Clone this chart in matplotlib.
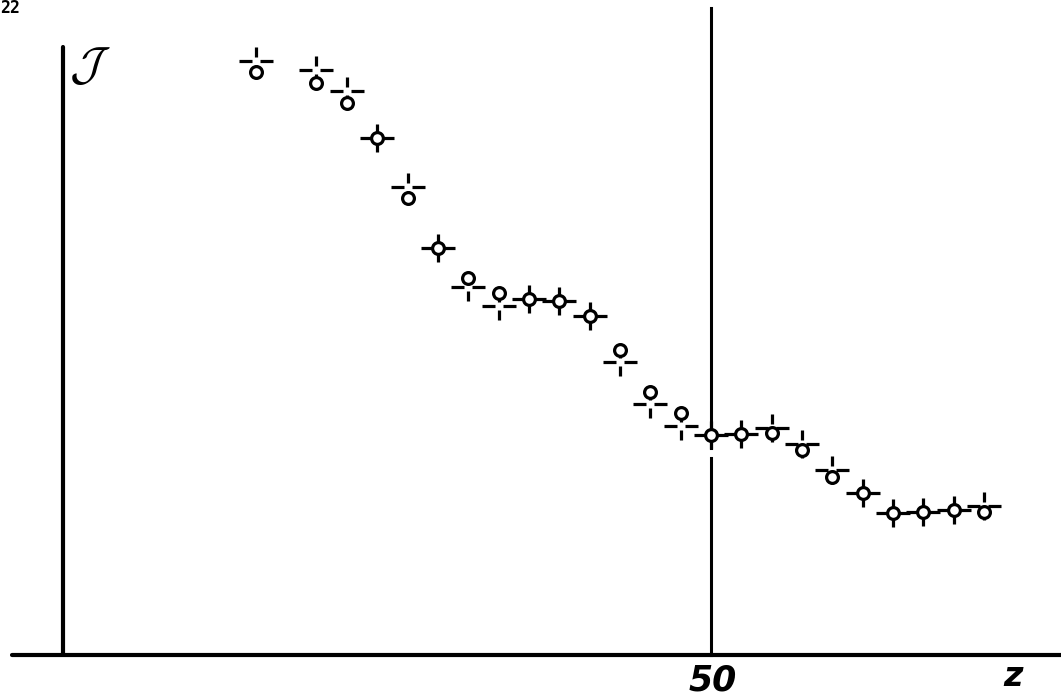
import numpy as np
import matplotlib
matplotlib.use('Agg')
import matplotlib.pyplot as plt
from matplotlib.path import Path

plt.rcParams['mathtext.fontset'] = 'cm'

# Data (J in arbitrary units)
z = [35, 37, 38, 39, 40, 41, 42, 43, 44, 45, 46, 47, 48, 49,
     50, 51, 52, 53, 54, 55, 56, 57, 58, 59]
j = [95.6, 93.8, 90.5, 84.8, 74.9, 66.7, 61.8, 59.3, 58.4, 58.0, 55.6, 50.0,
     43.1, 39.7, 36.1, 36.2, 36.4, 33.6, 29.2, 26.6, 23.3, 23.4, 23.8, 23.4]
# where the drawn cross sits relative to the circle
cross_shift = [1.8, 2.1, 2.0, 0.0, 1.8, 0.0, -1.5, -2.0, 0.0, 0.0, 0.0, -2.0,
               -2.0, -2.1, 0.0, 0.0, 0.8, 1.0, 1.1, 0.0, 0.0, 0.0, 0.0, 1.0]

fig = plt.figure(figsize=(10.61, 6.96), dpi=100)
ax = fig.add_axes([0, 0, 1, 1])
ax.set_xlim(26.573, 61.532)
ax.set_ylim(-6.72, 107.4)
ax.axis('off')

# axes as hand-drawn lines
ax.plot([26.968, 61.532], [0, 0], color='black', lw=3.0, solid_capstyle='round')
ax.plot([28.65, 28.65], [0, 99.7], color='black', lw=3.0, solid_capstyle='round')
ax.plot([50, 50], [0, 32.3], color='black', lw=2.2)
ax.plot([50, 50], [33.9, 106.1], color='black', lw=2.2)

# cross with a small gap in the middle
g = 0.22
cross = Path([(-1, 0), (-g, 0), (g, 0), (1, 0),
              (0, -0.82), (0, -g), (0, g), (0, 0.82)],
             [Path.MOVETO, Path.LINETO] * 4)

# crosses first, circles drawn on top with white fill
jc = np.array(j) + np.array(cross_shift)
ax.plot(z, jc, linestyle='none', marker=cross, markersize=24, mew=2.3,
        color='black', markerfacecolor='none')
ax.plot(z, j, linestyle='none', marker='o', markersize=8.5, mew=2.3,
        markeredgecolor='black', markerfacecolor='white')

ax.text(0.0, 0.988, '22', transform=ax.transAxes, fontsize=12, fontweight='bold',
        family='DejaVu Sans Mono', ha='left', va='center')
ax.text(28.85, 96.5, r'$\mathcal{J}$', fontsize=34, ha='left', va='center')
ax.text(50.07, -4.1, '50', fontsize=25, fontweight='bold', style='italic',
        ha='center', va='center')
ax.text(59.95, -3.6, 'z', fontsize=24, fontweight='bold', style='italic',
        ha='center', va='center')

plt.savefig('out.png', dpi=100)
